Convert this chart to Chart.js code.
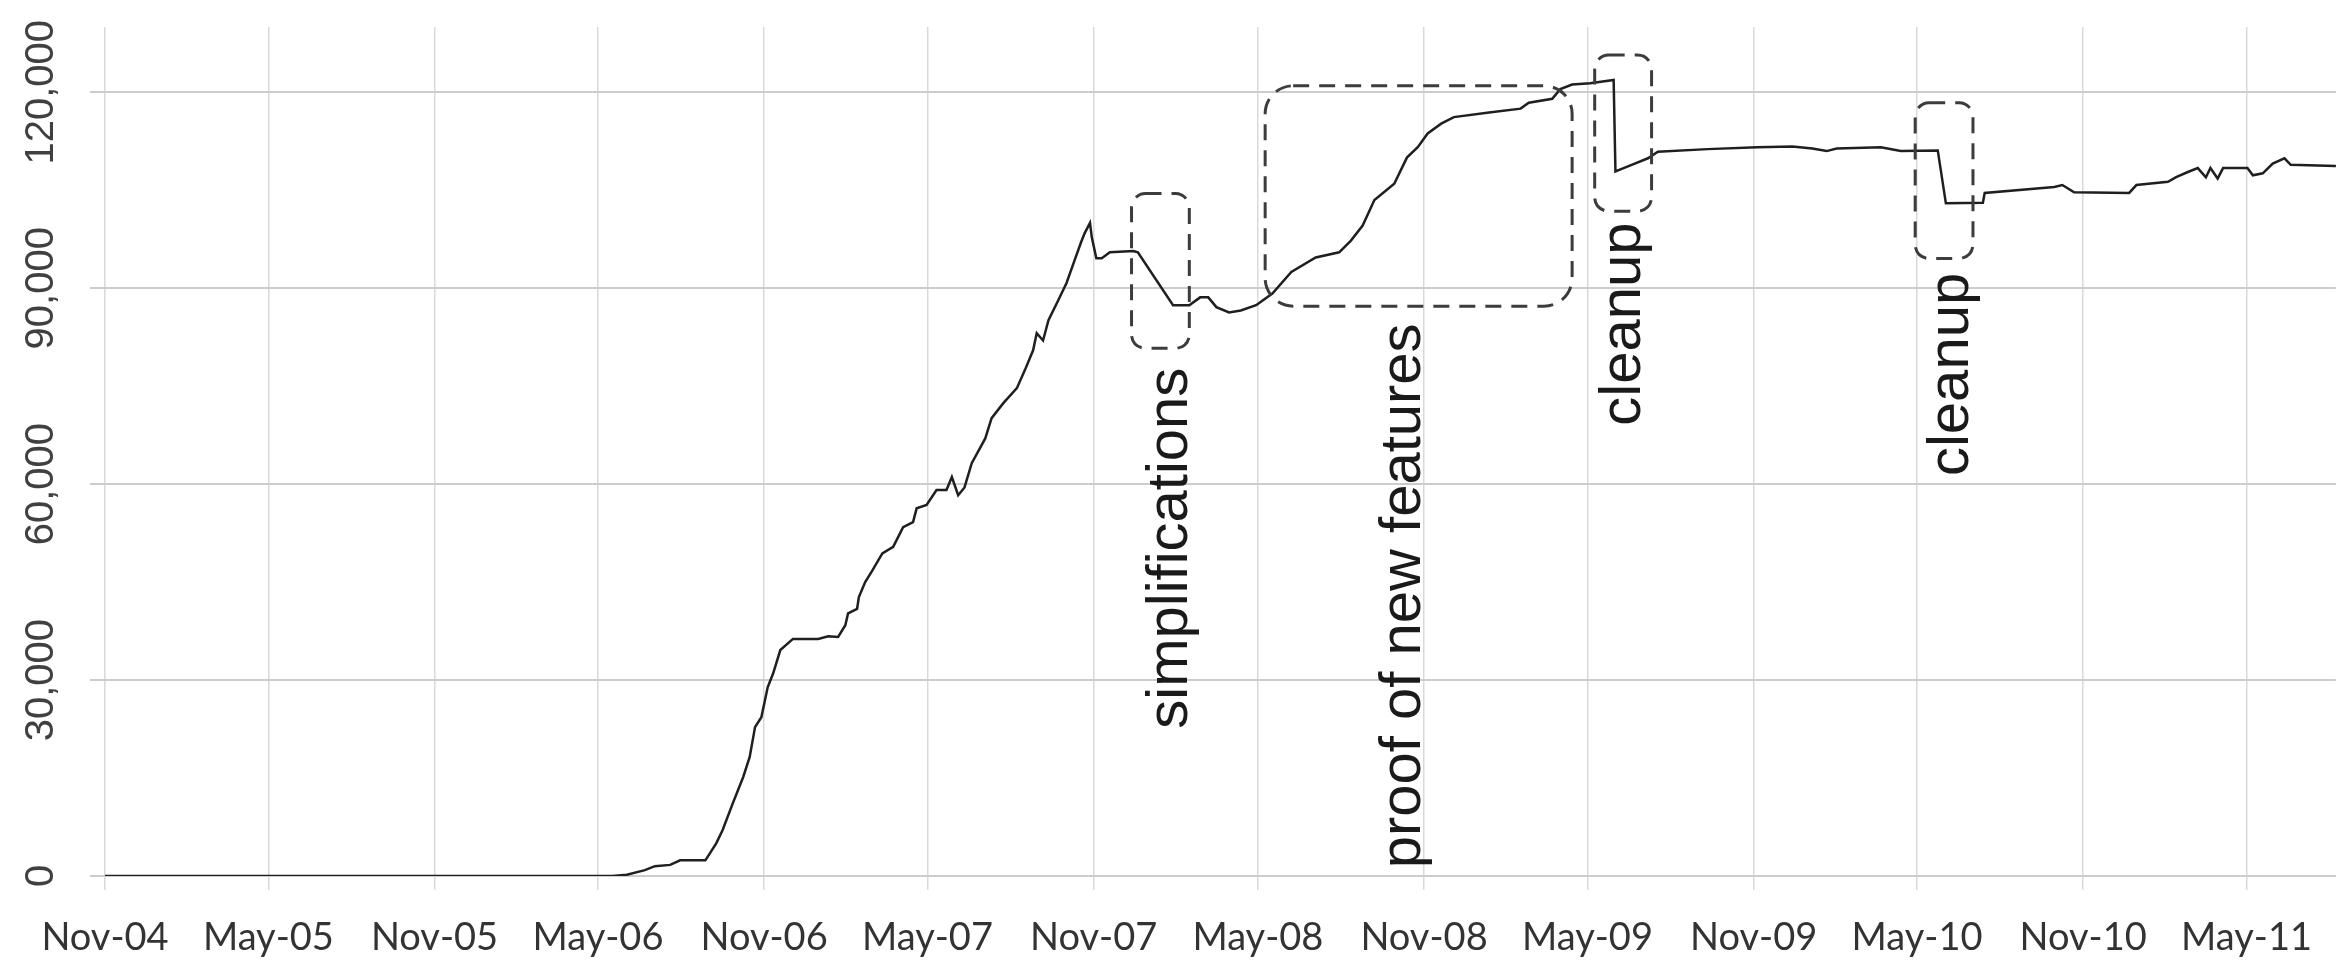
<!DOCTYPE html>
<html>
<head>
<meta charset="utf-8">
<script src="https://cdn.jsdelivr.net/npm/chart.js@4.4.1/dist/chart.umd.min.js"></script>
<style>
  html, body { margin: 0; padding: 0; background: #fff; }
  #wrap { width: 2337px; height: 962px; }
</style>
</head>
<body>
<div id="wrap"><canvas id="locChart" width="2337" height="962"></canvas></div>
<script>
// x axis labels (one every six months)
const tickLabels = ['Nov-04', 'May-05', 'Nov-05', 'May-06', 'Nov-06', 'May-07', 'Nov-07',
  'May-08', 'Nov-08', 'May-09', 'Nov-09', 'May-10', 'Nov-10', 'May-11'];
const yTicks = [0, 30000, 60000, 90000, 120000];

// days since 1 Nov 2004
const days = [0, 562, 578, 598, 609, 626, 637, 665, 677, 684, 695, 707, 714, 720, 727, 734, 740, 748,
  762, 790, 801, 812, 820, 823, 833, 835, 842, 850, 861, 873, 884, 895, 899, 910, 921, 932, 938, 945,
  952, 960, 975, 982, 995, 1010, 1019, 1028, 1032, 1039, 1045, 1056, 1065, 1074, 1081, 1085, 1091,
  1093, 1098, 1104, 1113, 1139, 1144, 1183, 1201, 1213, 1222, 1231, 1245, 1258, 1275, 1293, 1314,
  1341, 1367, 1380, 1393, 1406, 1428, 1442, 1454, 1465, 1480, 1494, 1533, 1568, 1577, 1603, 1612,
  1625, 1645, 1671, 1673, 1693, 1709, 1720, 1775, 1830, 1869, 1891, 1907, 1918, 1967, 1989, 2030,
  2039, 2080, 2082, 2159, 2168, 2181, 2242, 2250, 2285, 2294, 2307, 2318, 2327, 2332, 2340, 2346,
  2373, 2379, 2390, 2401, 2414, 2421, 2471];
// lines of code
const loc = [0, 0, 200, 900, 1500, 1700, 2400, 2400, 5000, 7000, 11000, 15200, 18200, 22800, 24300,
  28900, 31000, 34600, 36300, 36300, 36700, 36600, 38400, 40200, 40900, 42700, 45000, 46800, 49400,
  50400, 53400, 54200, 56300, 56800, 59100, 59100, 61100, 58300, 59500, 63200, 67000, 70100, 72400,
  74700, 77500, 80500, 83100, 82000, 85100, 88200, 90800, 94300, 97000, 98400, 100000, 97800, 94600,
  94600, 95500, 95700, 95500, 87400, 87400, 88600, 88600, 87100, 86300, 86600, 87400, 89200, 92500,
  94700, 95500, 97300, 99600, 103500, 106000, 110000, 111600, 113700, 115200, 116200, 116900, 117500,
  118400, 119000, 120500, 121200, 121400, 121900, 107900, 109000, 109900, 110900, 111300, 111600,
  111700, 111400, 111000, 111400, 111600, 111000, 111100, 103000, 103100, 104600, 105500, 105800,
  104700, 104600, 105800, 106300, 107000, 107800, 108400, 107000, 108400, 106800, 108400, 108400,
  107300, 107600, 109100, 109900, 108900, 108700];

const monthIdx = { Nov: 10, May: 4 };
const origin = Date.UTC(2004, 10, 1);
const tickDays = tickLabels.map(l => {
  const [m, yy] = l.split('-');
  return Math.round((Date.UTC(2000 + Number(yy), monthIdx[m], 1) - origin) / 86400000);
});

// dashed boxes + rotated notes, in axis units
const notes = [
  { text: 'simplifications', x0: 1137, x1: 1201, y0: 80800, y1: 104500, r: 14, tx: 1198, ty: 50200 },
  { text: 'proof of new features', x0: 1285, x1: 1625, y0: 87250, y1: 121000, r: 28, tx: 1456, ty: 42900 },
  { text: 'cleanup', x0: 1650, x1: 1713, y0: 101800, y1: 125700, r: 14, tx: 1700, ty: 84500 },
  { text: 'cleanup', x0: 2005, x1: 2069, y0: 94550, y1: 118400, r: 14, tx: 2063, ty: 76800 }
];

const notesPlugin = {
  id: 'notes',
  afterDatasetsDraw(chart) {
    const { ctx, scales: { x, y } } = chart;
    ctx.save();
    notes.forEach(n => {
      const l = x.getPixelForValue(n.x0), r = x.getPixelForValue(n.x1);
      const t = y.getPixelForValue(n.y1), b = y.getPixelForValue(n.y0);
      ctx.setLineDash([16, 10]);
      ctx.lineWidth = 3;
      ctx.strokeStyle = '#3c3c3c';
      ctx.beginPath();
      ctx.roundRect(l, t, r - l, b - t, n.r);
      ctx.stroke();
      ctx.setLineDash([]);
      ctx.save();
      ctx.translate(x.getPixelForValue(n.tx), y.getPixelForValue(n.ty));
      ctx.rotate(-Math.PI / 2);
      ctx.font = '58px "Liberation Sans", Arial, sans-serif';
      ctx.fillStyle = '#1a1a1a';
      ctx.textAlign = 'center';
      ctx.textBaseline = 'alphabetic';
      ctx.fillText(n.text, 0, 0);
      ctx.restore();
    });
    ctx.restore();
  }
};

// y labels are rotated, so draw them by hand at the tick positions
const yLabelsPlugin = {
  id: 'yLabels',
  afterDraw(chart) {
    const { ctx, scales: { y } } = chart;
    ctx.save();
    ctx.font = '40px "Liberation Sans", Arial, sans-serif';
    ctx.fillStyle = '#404040';
    ctx.textAlign = 'center';
    ctx.textBaseline = 'alphabetic';
    y.ticks.forEach(t => {
      ctx.save();
      ctx.translate(y.right - 52, y.getPixelForValue(t.value));
      ctx.rotate(-Math.PI / 2);
      ctx.fillText(t.value.toLocaleString('en-US'), 0, 0);
      ctx.restore();
    });
    ctx.restore();
  }
};

new Chart(document.getElementById('locChart'), {
  type: 'line',
  data: {
    datasets: [{
      data: days.map((d, i) => ({ x: d, y: loc[i] })),
      borderColor: '#1f1f1f',
      borderWidth: 2.5,
      pointRadius: 0,
      tension: 0,
      fill: false
    }]
  },
  options: {
    responsive: false,
    animation: false,
    devicePixelRatio: 1,
    layout: { padding: { top: 27, right: 0, bottom: 0, left: 0 } },
    plugins: { legend: { display: false }, tooltip: { enabled: false } },
    scales: {
      x: {
        type: 'linear',
        min: 0,
        max: 2471,
        afterBuildTicks: s => { s.ticks = tickDays.map(v => ({ value: v })); },
        afterFit: s => { s.height = 86; },
        grid: { color: '#d9d9d9', lineWidth: 1.5, tickLength: 14 },
        border: { display: false },
        ticks: {
          autoSkip: false,
          maxRotation: 0,
          padding: 25,
          color: '#333333',
          font: { family: 'Lato', size: 38 },
          callback: (v, i) => tickLabels[i]
        }
      },
      y: {
        min: 0,
        max: 130000,
        afterBuildTicks: s => { s.ticks = yTicks.map(v => ({ value: v })); },
        afterFit: s => { s.width = 105; },
        grid: { color: '#cccccc', lineWidth: 2, tickLength: 15 },
        border: { display: false },
        ticks: { display: false }
      }
    }
  },
  plugins: [notesPlugin, yLabelsPlugin]
});
</script>
</body>
</html>
